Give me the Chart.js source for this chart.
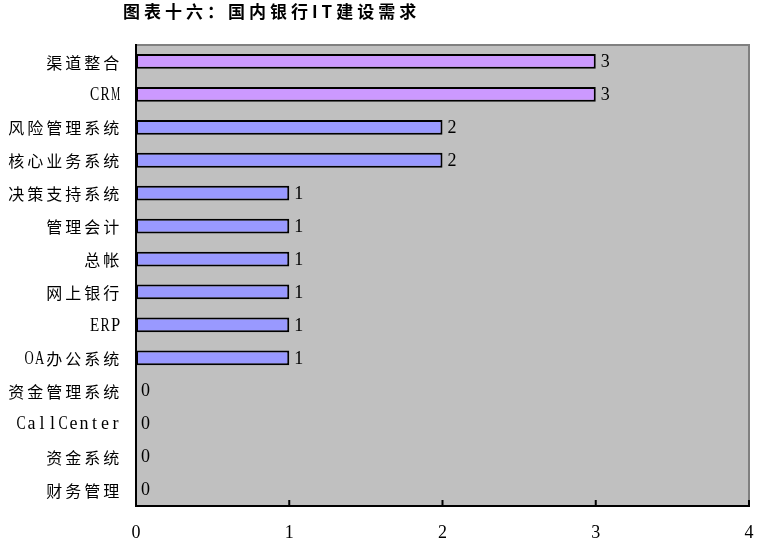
<!DOCTYPE html>
<html><head><meta charset="utf-8">
<script src="https://cdn.jsdelivr.net/npm/chart.js@4.4.1/dist/chart.umd.min.js"></script>
<style>
html,body{margin:0;padding:0;background:#fff;width:765px;height:540px;overflow:hidden;}
#wrap{position:relative;width:765px;height:540px;}
#title{position:absolute;left:123px;top:-2px;font:bold 17px "Noto Sans CJK SC";letter-spacing:4px;color:#000;white-space:nowrap;line-height:26px;}
canvas{position:absolute;left:0;top:0;}
</style></head><body>
<div id="wrap"><canvas id="c" width="765" height="540"></canvas><div id="title"></div></div>
<script>
const titleText = '图表十六：国内银行IT建设需求';
const categories = ['渠道整合','CRM','风险管理系统','核心业务系统','决策支持系统','管理会计','总帐','网上银行','ERP','OA办公系统','资金管理系统','CallCenter','资金系统','财务管理'];
const values = [3,3,2,2,1,1,1,1,1,1,0,0,0,0];
const xTicks = [0,1,2,3,4];
const barColors = ['#CC99FF','#CC99FF','#9999FF','#9999FF','#9999FF','#9999FF','#9999FF','#9999FF','#9999FF','#9999FF','#9999FF','#9999FF','#9999FF','#9999FF'];

document.getElementById('title').textContent = titleText;

const NUMFONT = '"Liberation Serif","Noto Sans CJK SC"';
const CJKFONT = '"Noto Sans CJK SC"';

// grid-style text layout (wide chars / narrow chars)
function isWide(ch) { return ch.charCodeAt(0) > 0x2E80; }
function drawGridText(ctx, text, rightX, y) {
  const wideAdv = 19, narrowAdv = 10.5;
  let total = 0;
  for (const ch of text) total += isWide(ch) ? wideAdv : narrowAdv;
  let x = rightX - total;
  for (const ch of text) {
    const wide = isWide(ch);
    const adv = wide ? wideAdv : narrowAdv;
    ctx.font = wide ? '16px ' + CJKFONT : '18px "Liberation Serif"';
    const w = ctx.measureText(ch).width;
    let sx = 1;
    if (!wide && w > 9.2) sx = 9.2 / w;
    ctx.save();
    ctx.translate(x + adv / 2 - 1.2, y);
    ctx.scale(sx, 1);
    ctx.fillText(ch, 0, 0);
    ctx.restore();
    x += adv;
  }
}

const framePlugin = {
  id: 'frame',
  beforeDraw(chart) {
    const {ctx, chartArea: a} = chart;
    ctx.save();
    ctx.fillStyle = '#C0C0C0';
    ctx.fillRect(a.left, a.top, a.right - a.left, a.bottom - a.top);
    ctx.restore();
  },
  afterDatasetsDraw(chart) {
    const {ctx, chartArea: a} = chart;
    const meta = chart.getDatasetMeta(0);
    ctx.save();
    ctx.font = '18px ' + NUMFONT;
    ctx.fillStyle = '#000';
    ctx.textBaseline = 'middle';
    ctx.textAlign = 'left';
    meta.data.forEach((bar, i) => {
      ctx.fillText(String(values[i]), bar.x + 5, bar.y + 1);
    });
    // y category labels
    const ys = chart.scales.y;
    ctx.textAlign = 'center';
    categories.forEach((c, i) => {
      drawGridText(ctx, c, 122, ys.getPixelForTick(i) + 1);
    });
    // top & right gray border
    ctx.strokeStyle = '#808080';
    ctx.lineWidth = 2;
    ctx.beginPath();
    ctx.moveTo(a.left, a.top);
    ctx.lineTo(a.right, a.top);
    ctx.lineTo(a.right, a.bottom);
    ctx.stroke();
    // left & bottom black axes
    ctx.strokeStyle = '#000';
    ctx.lineWidth = 2;
    ctx.beginPath();
    ctx.moveTo(a.left, a.top - 1);
    ctx.lineTo(a.left, a.bottom);
    ctx.lineTo(a.right + 1, a.bottom);
    ctx.stroke();
    // inward tick marks on x axis
    const xs = chart.scales.x;
    ctx.beginPath();
    xTicks.forEach(v => {
      const px = xs.getPixelForValue(v);
      ctx.moveTo(px, a.bottom);
      ctx.lineTo(px, a.bottom - 6);
    });
    ctx.stroke();
    ctx.restore();
  }
};

new Chart(document.getElementById('c'), {
  type: 'bar',
  data: {
    labels: categories,
    datasets: [{
      data: values,
      backgroundColor: barColors,
      borderColor: '#000',
      borderWidth: 2,
      borderSkipped: false,
      barPercentage: 0.45,
      categoryPercentage: 1
    }]
  },
  options: {
    indexAxis: 'y',
    responsive: false,
    animation: false,
    devicePixelRatio: 1,
    layout: { padding: { top: 45, right: 16, left: 0, bottom: 0 } },
    plugins: { legend: { display: false }, tooltip: { enabled: false }, title: { display: false } },
    scales: {
      x: {
        min: 0, max: 4,
        afterBuildTicks(s) { s.ticks = xTicks.map(v => ({ value: v })); },
        afterFit(s) { s.height = 34; s.paddingLeft = 0; s.paddingRight = 0; },
        grid: { display: false, drawTicks: false },
        border: { display: false },
        ticks: { color: '#000', padding: 16, maxRotation: 0, font: { family: NUMFONT, size: 18 } }
      },
      y: {
        afterFit(s) { s.width = 136; s.paddingTop = 0; s.paddingBottom = 0; },
        grid: { display: false, drawTicks: false },
        border: { display: false },
        ticks: { display: false }
      }
    }
  },
  plugins: [framePlugin]
});
</script>
</body></html>
